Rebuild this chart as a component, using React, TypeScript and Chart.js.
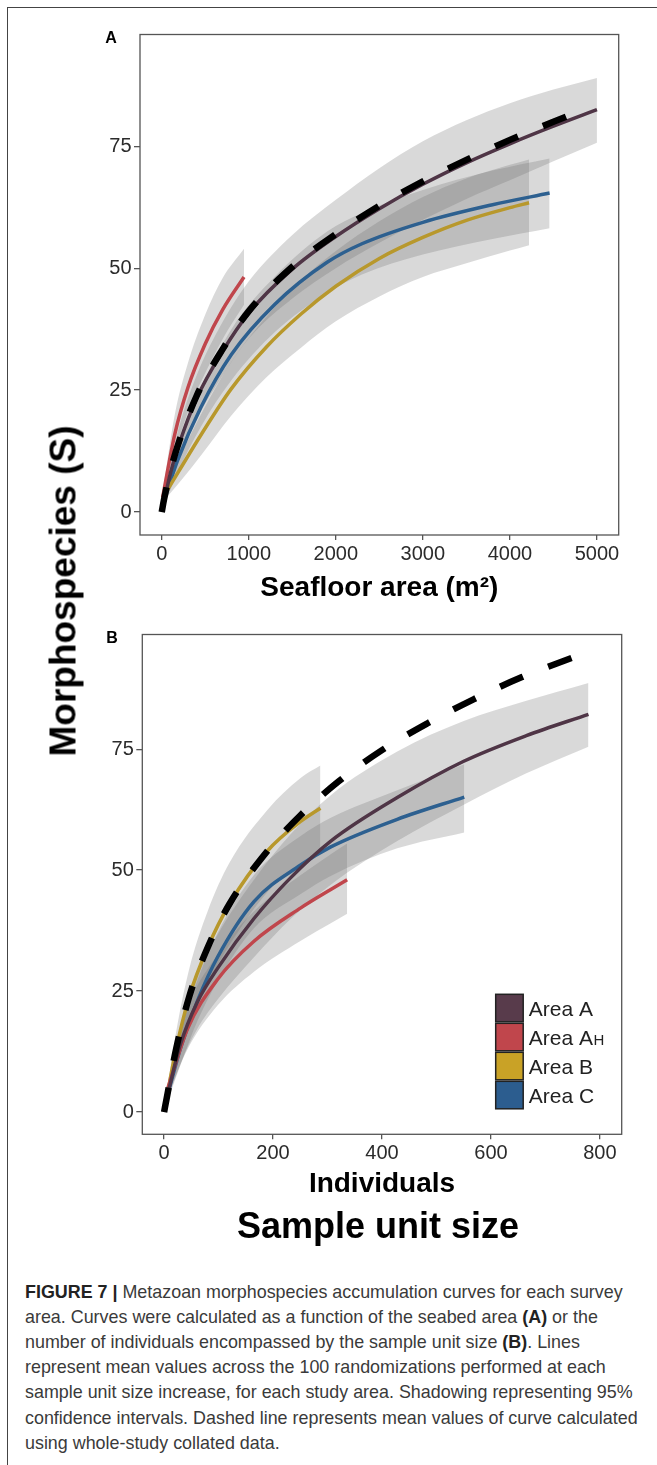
import React, { useEffect, useRef } from 'react';
import { Chart, registerables } from 'chart.js';

Chart.register(...registerables);

const FONT = '"Liberation Sans", Arial, Helvetica, sans-serif';

// ---------- shared ----------
const seriesNames = ['Area A', 'Area AH', 'Area B', 'Area C'];
const legendMain = ['Area A', 'Area A', 'Area B', 'Area C'];
const legendSmall = ['', 'H', '', ''];
const lineColors = ['#4f3546', '#c0464c', '#b8982c', '#2d6090'];
const swatchColors = ['#583b4b', '#c0464c', '#c9a226', '#2c5d8f'];
const ribbonColor = 'rgba(110,110,110,0.26)';
const yTicks = [0, 25, 50, 75];

// ---------- panel A : seafloor area (m2) ----------
const xTicksA = [0, 1000, 2000, 3000, 4000, 5000];

const allXA = [0, 25, 100, 200, 400, 700, 1000, 1500, 2000, 2500, 3000, 3500, 4000, 4500, 4800];
const allYA = [0, 2.5, 8.5, 14.5, 23.8, 33.4, 41.2, 50.3, 57, 62.8, 67.8, 72.2, 76.3, 80, 82.2];

const aXA = [20, 100, 200, 400, 700, 1000, 1500, 2000, 2500, 3000, 3500, 4000, 4500, 5000];
const aMeanA = [1.5, 8, 14, 23.3, 33, 40.8, 49.8, 56.5, 62.2, 67.2, 71.6, 75.5, 79.1, 82.5];
const aUpA = [2, 10, 17.5, 28, 39, 47.3, 56.8, 64, 70.5, 76, 80.3, 83.8, 86.6, 89];
const aLoA = [1, 6, 11, 19, 28, 35.6, 43.8, 50, 55.2, 59.9, 64.2, 68, 71.9, 75.7];

const ahXA = [10, 150, 300, 500, 700, 945];
const ahMeanA = [3, 16, 25.5, 34.5, 41.5, 48.2];
const ahUpA = [4, 20, 30.5, 40.5, 48, 54];
const ahLoA = [2, 12, 20.5, 28.5, 35.5, 42.5];

const bXA = [30, 200, 450, 800, 1200, 1600, 2000, 2500, 3000, 3500, 4000, 4220];
const bMeanA = [3.5, 8.5, 15.8, 25.3, 33.8, 40.6, 46.3, 52, 56.3, 59.8, 62.4, 63.4];
const bUpA = [4.5, 11, 20, 30.8, 40, 47.5, 53.5, 59.6, 64.6, 68.4, 71.2, 72.3];
const bLoA = [2.5, 6, 11.6, 19.8, 27.6, 33.7, 39.1, 44.2, 48.2, 51, 53.6, 54.7];

const cXA = [20, 180, 450, 800, 1300, 1900, 2300, 3000, 3800, 4456];
const cMeanA = [2, 10.5, 21.5, 32.3, 42.6, 51.2, 55, 59.4, 63, 65.4];
const cUpA = [3, 13, 25.5, 37.5, 48.3, 57.5, 61.3, 66, 70, 72.5];
const cLoA = [1, 8, 17.5, 27, 36.9, 44.9, 48.7, 52.8, 56, 58.2];

// ---------- panel B : individuals ----------
const xTicksB = [0, 200, 400, 600, 800];

const allXB = [0, 5, 22, 46, 80, 120, 190, 250, 320, 400, 483, 568, 657, 775];
const allYB = [0, 3, 13, 23.8, 34, 43, 54, 61.3, 68.3, 74.8, 80.3, 85.3, 89.9, 95];

const aXB = [5, 30, 60, 100, 165, 233, 306, 428, 550, 665, 779];
const aMeanB = [3, 14, 22.5, 30, 40, 48.5, 56, 65, 72.5, 77.8, 82.2];
const aUpB = [4, 18, 28, 37, 48, 57.5, 65.5, 74.5, 80.8, 85, 88.7];
const aLoB = [2, 10, 17, 23.5, 32, 40, 47, 56, 63.5, 70, 75.5];

const ahXB = [7, 43, 98, 165, 251, 306, 336];
const ahMeanB = [5, 17.2, 27.4, 35.3, 42.2, 46, 48];
const ahUpB = [6.5, 21.5, 32.5, 41.5, 49, 53.3, 55.5];
const ahLoB = [3.5, 13, 22, 29, 35.4, 39, 41];

const bXB = [4, 22, 46, 80, 120, 190, 250, 287];
const bMeanB = [2.5, 13, 23.8, 34, 43, 54, 60, 62.8];
const bUpB = [3.5, 16.5, 29.5, 41.5, 51.5, 62.5, 69, 71.6];
const bLoB = [1.5, 9.5, 18, 26.5, 34.5, 45.5, 51.2, 54];

const cXB = [7, 31, 62, 98, 165, 250, 306, 428, 551];
const cMeanB = [3.8, 13.5, 23.2, 32, 43.5, 51, 54.8, 60.5, 65.1];
const cUpB = [5, 17, 27.5, 37, 49, 57, 60.8, 66.5, 71.9];
const cLoB = [2.5, 10, 19, 27, 38, 45, 48.8, 54.5, 57.8];

type Series = { x: number[]; mean: number[]; upper: number[]; lower: number[] };

const seriesA: Series[] = [
  { x: aXA, mean: aMeanA, upper: aUpA, lower: aLoA },
  { x: ahXA, mean: ahMeanA, upper: ahUpA, lower: ahLoA },
  { x: bXA, mean: bMeanA, upper: bUpA, lower: bLoA },
  { x: cXA, mean: cMeanA, upper: cUpA, lower: cLoA },
];
const seriesB: Series[] = [
  { x: aXB, mean: aMeanB, upper: aUpB, lower: aLoB },
  { x: ahXB, mean: ahMeanB, upper: ahUpB, lower: ahLoB },
  { x: bXB, mean: bMeanB, upper: bUpB, lower: bLoB },
  { x: cXB, mean: cMeanB, upper: cUpB, lower: cLoB },
];

const pts = (xs: number[], ys: number[]) => xs.map((x, i) => ({ x, y: ys[i] }));

function buildDatasets(series: Series[], allX: number[], allY: number[]) {
  const ds: any[] = [];
  ds.push({
    label: 'All areas',
    data: pts(allX, allY),
    borderColor: '#000',
    borderWidth: 6.5,
    borderDash: [25, 27],
    borderCapStyle: 'butt',
    fill: false,
    order: 0,
  });
  series.forEach((s, i) =>
    ds.push({
      label: seriesNames[i],
      data: pts(s.x, s.mean),
      borderColor: lineColors[i],
      borderWidth: 3.5,
      fill: false,
      order: 1,
    })
  );
  series.forEach((s, i) => {
    ds.push({
      label: seriesNames[i] + ' upper',
      data: pts(s.x, s.upper),
      borderColor: 'rgba(0,0,0,0)',
      borderWidth: 0,
      backgroundColor: ribbonColor,
      fill: '+1',
      order: 2,
    });
    ds.push({
      label: seriesNames[i] + ' lower',
      data: pts(s.x, s.lower),
      borderColor: 'rgba(0,0,0,0)',
      borderWidth: 0,
      fill: false,
      order: 2,
    });
  });
  return ds;
}

const borderPlugin = {
  id: 'panelBorder',
  afterDraw(chart: any) {
    const { ctx, chartArea: ca } = chart;
    ctx.save();
    ctx.strokeStyle = '#555';
    ctx.lineWidth = 1.3;
    ctx.strokeRect(ca.left, ca.top, ca.right - ca.left, ca.bottom - ca.top);
    ctx.restore();
  },
};

const legendPlugin = {
  id: 'areaLegend',
  afterDraw(chart: any) {
    const { ctx, chartArea: ca } = chart;
    const size = 27.5;
    const step = 29;
    const x0 = ca.right - 126;
    const y0 = ca.bottom - 140;
    ctx.save();
    legendMain.forEach((name, i) => {
      const y = y0 + i * step;
      ctx.fillStyle = swatchColors[i];
      ctx.fillRect(x0, y, size, size);
      ctx.strokeStyle = '#222';
      ctx.lineWidth = 1.5;
      ctx.strokeRect(x0, y, size, size);
      ctx.fillStyle = '#222';
      ctx.textAlign = 'left';
      ctx.textBaseline = 'alphabetic';
      ctx.font = `21px ${FONT}`;
      const base = y + size / 2 + 7.5;
      const tx = x0 + size + 5.5;
      ctx.fillText(name, tx, base);
      if (legendSmall[i]) {
        const w = ctx.measureText(name).width;
        ctx.font = `15px ${FONT}`;
        ctx.fillText(legendSmall[i], tx + w + 0.5, base);
      }
    });
    ctx.restore();
  },
};

function makeConfig(opts: {
  series: Series[];
  allX: number[];
  allY: number[];
  xMin: number;
  xMax: number;
  yMin: number;
  yMax: number;
  xTicks: number[];
  xTitle: string;
  titlePad: number;
  yWidth: number;
  xHeight: number;
  padTop: number;
  padRight: number;
  legend: boolean;
}): any {
  const tickFont = { family: FONT, size: 20 };
  return {
    type: 'line',
    data: { datasets: buildDatasets(opts.series, opts.allX, opts.allY) },
    options: {
      animation: false,
      responsive: false,
      maintainAspectRatio: false,
      devicePixelRatio: 1,
      events: [],
      layout: { padding: { top: opts.padTop, right: opts.padRight, left: 0, bottom: 0 } },
      elements: {
        point: { radius: 0, hoverRadius: 0 },
        line: { cubicInterpolationMode: 'monotone', tension: 0 },
      },
      plugins: {
        legend: { display: false },
        tooltip: { enabled: false },
        filler: { propagate: false },
      },
      scales: {
        x: {
          type: 'linear',
          min: opts.xMin,
          max: opts.xMax,
          afterBuildTicks: (sc: any) => {
            sc.ticks = opts.xTicks.map((v) => ({ value: v }));
          },
          afterFit: (sc: any) => {
            sc.height = opts.xHeight;
          },
          grid: { drawOnChartArea: false, drawTicks: true, tickLength: 5, color: '#555', lineWidth: 1.3 },
          border: { display: false },
          ticks: {
            color: '#2b2b2b',
            font: tickFont,
            padding: 2,
            autoSkip: false,
            maxRotation: 0,
            callback: (v: any) => String(v),
          },
          title: {
            display: true,
            text: opts.xTitle,
            color: '#000',
            font: { family: FONT, size: 28, weight: 'bold' },
            padding: { top: 0, bottom: opts.titlePad },
          },
        },
        y: {
          type: 'linear',
          min: opts.yMin,
          max: opts.yMax,
          afterBuildTicks: (sc: any) => {
            sc.ticks = yTicks.map((v) => ({ value: v }));
          },
          afterFit: (sc: any) => {
            sc.width = opts.yWidth;
          },
          grid: { drawOnChartArea: false, drawTicks: true, tickLength: 6, color: '#555', lineWidth: 1.3 },
          border: { display: false },
          ticks: {
            color: '#2b2b2b',
            font: tickFont,
            padding: 2.5,
            autoSkip: false,
            callback: (v: any) => String(v),
          },
        },
      },
    },
    plugins: opts.legend ? [borderPlugin, legendPlugin] : [borderPlugin],
  };
}

const captionLines: [string, boolean][][] = [
  [['FIGURE 7 | ', true], ['Metazoan morphospecies accumulation curves for each survey', false]],
  [['area. Curves were calculated as a function of the seabed area ', false], ['(A)', true], [' or the', false]],
  [['number of individuals encompassed by the sample unit size ', false], ['(B)', true], ['. Lines', false]],
  [['represent mean values across the 100 randomizations performed at each', false]],
  [['sample unit size increase, for each study area. Shadowing representing 95%', false]],
  [['confidence intervals. Dashed line represents mean values of curve calculated', false]],
  [['using whole-study collated data.', false]],
];

export default function App() {
  const refA = useRef<HTMLCanvasElement>(null);
  const refB = useRef<HTMLCanvasElement>(null);

  useEffect(() => {
    const chartA = new Chart(
      refA.current as HTMLCanvasElement,
      makeConfig({
        series: seriesA,
        allX: allXA,
        allY: allYA,
        xMin: -250,
        xMax: 5250,
        yMin: -4.7,
        yMax: 97.9,
        xTicks: xTicksA,
        xTitle: 'Seafloor area (m²)',
        titlePad: 15.2,
        yWidth: 120,
        xHeight: 85,
        padTop: 9,
        padRight: 26.3,
        legend: false,
      })
    );
    const chartB = new Chart(
      refB.current as HTMLCanvasElement,
      makeConfig({
        series: seriesB,
        allX: allXB,
        allY: allYB,
        xMin: -40,
        xMax: 840,
        yMin: -4.6,
        yMax: 98.7,
        xTicks: xTicksB,
        xTitle: 'Individuals',
        titlePad: 19.2,
        yWidth: 122.3,
        xHeight: 85.7,
        padTop: 9.3,
        padRight: 23.3,
        legend: true,
      })
    );
    return () => {
      chartA.destroy();
      chartB.destroy();
    };
  }, []);

  return (
    <div
      style={{
        position: 'absolute',
        left: 0,
        top: 0,
        width: 657,
        height: 1465,
        overflow: 'hidden',
        background: '#fff',
        fontFamily: FONT,
      }}
    >
      <div
        style={{
          position: 'absolute',
          left: 7,
          top: 7,
          width: 700,
          height: 1500,
          borderLeft: '1.5px solid #444',
          borderTop: '1.5px solid #444',
        }}
      />
      <canvas ref={refA} width={625} height={600} style={{ position: 'absolute', left: 20, top: 20 }} />
      <canvas ref={refB} width={625} height={600} style={{ position: 'absolute', left: 20, top: 620 }} />

      <div style={{ position: 'absolute', left: 101, top: 30, width: 20, textAlign: 'center', fontSize: 16, lineHeight: '16px', fontWeight: 'bold' }}>A</div>
      <div style={{ position: 'absolute', left: 102, top: 630, width: 20, textAlign: 'center', fontSize: 16, lineHeight: '16px', fontWeight: 'bold' }}>B</div>

      <div
        style={{
          position: 'absolute',
          left: 63,
          top: 591,
          transform: 'translate(-50%, -50%) rotate(-90deg)',
          whiteSpace: 'nowrap',
          fontSize: 37,
          lineHeight: '37px',
          fontWeight: 'bold',
          color: '#000',
        }}
      >
        Morphospecies (S)
      </div>

      <div
        style={{
          position: 'absolute',
          left: 178,
          width: 400,
          top: 1208.4,
          textAlign: 'center',
          whiteSpace: 'nowrap',
          fontSize: 36,
          lineHeight: '36px',
          fontWeight: 'bold',
          color: '#000',
        }}
      >
        Sample unit size
      </div>

      <div style={{ position: 'absolute', left: 25, top: 1279.6, fontSize: 17.9, lineHeight: '25.2px', color: '#3a3a3a' }}>
        {captionLines.map((line, i) => (
          <div key={i} style={{ whiteSpace: 'nowrap' }}>
            {line.map(([t, b], j) => (
              <span key={j} style={b ? { fontWeight: 'bold', color: '#222' } : undefined}>
                {t}
              </span>
            ))}
          </div>
        ))}
      </div>
    </div>
  );
}
